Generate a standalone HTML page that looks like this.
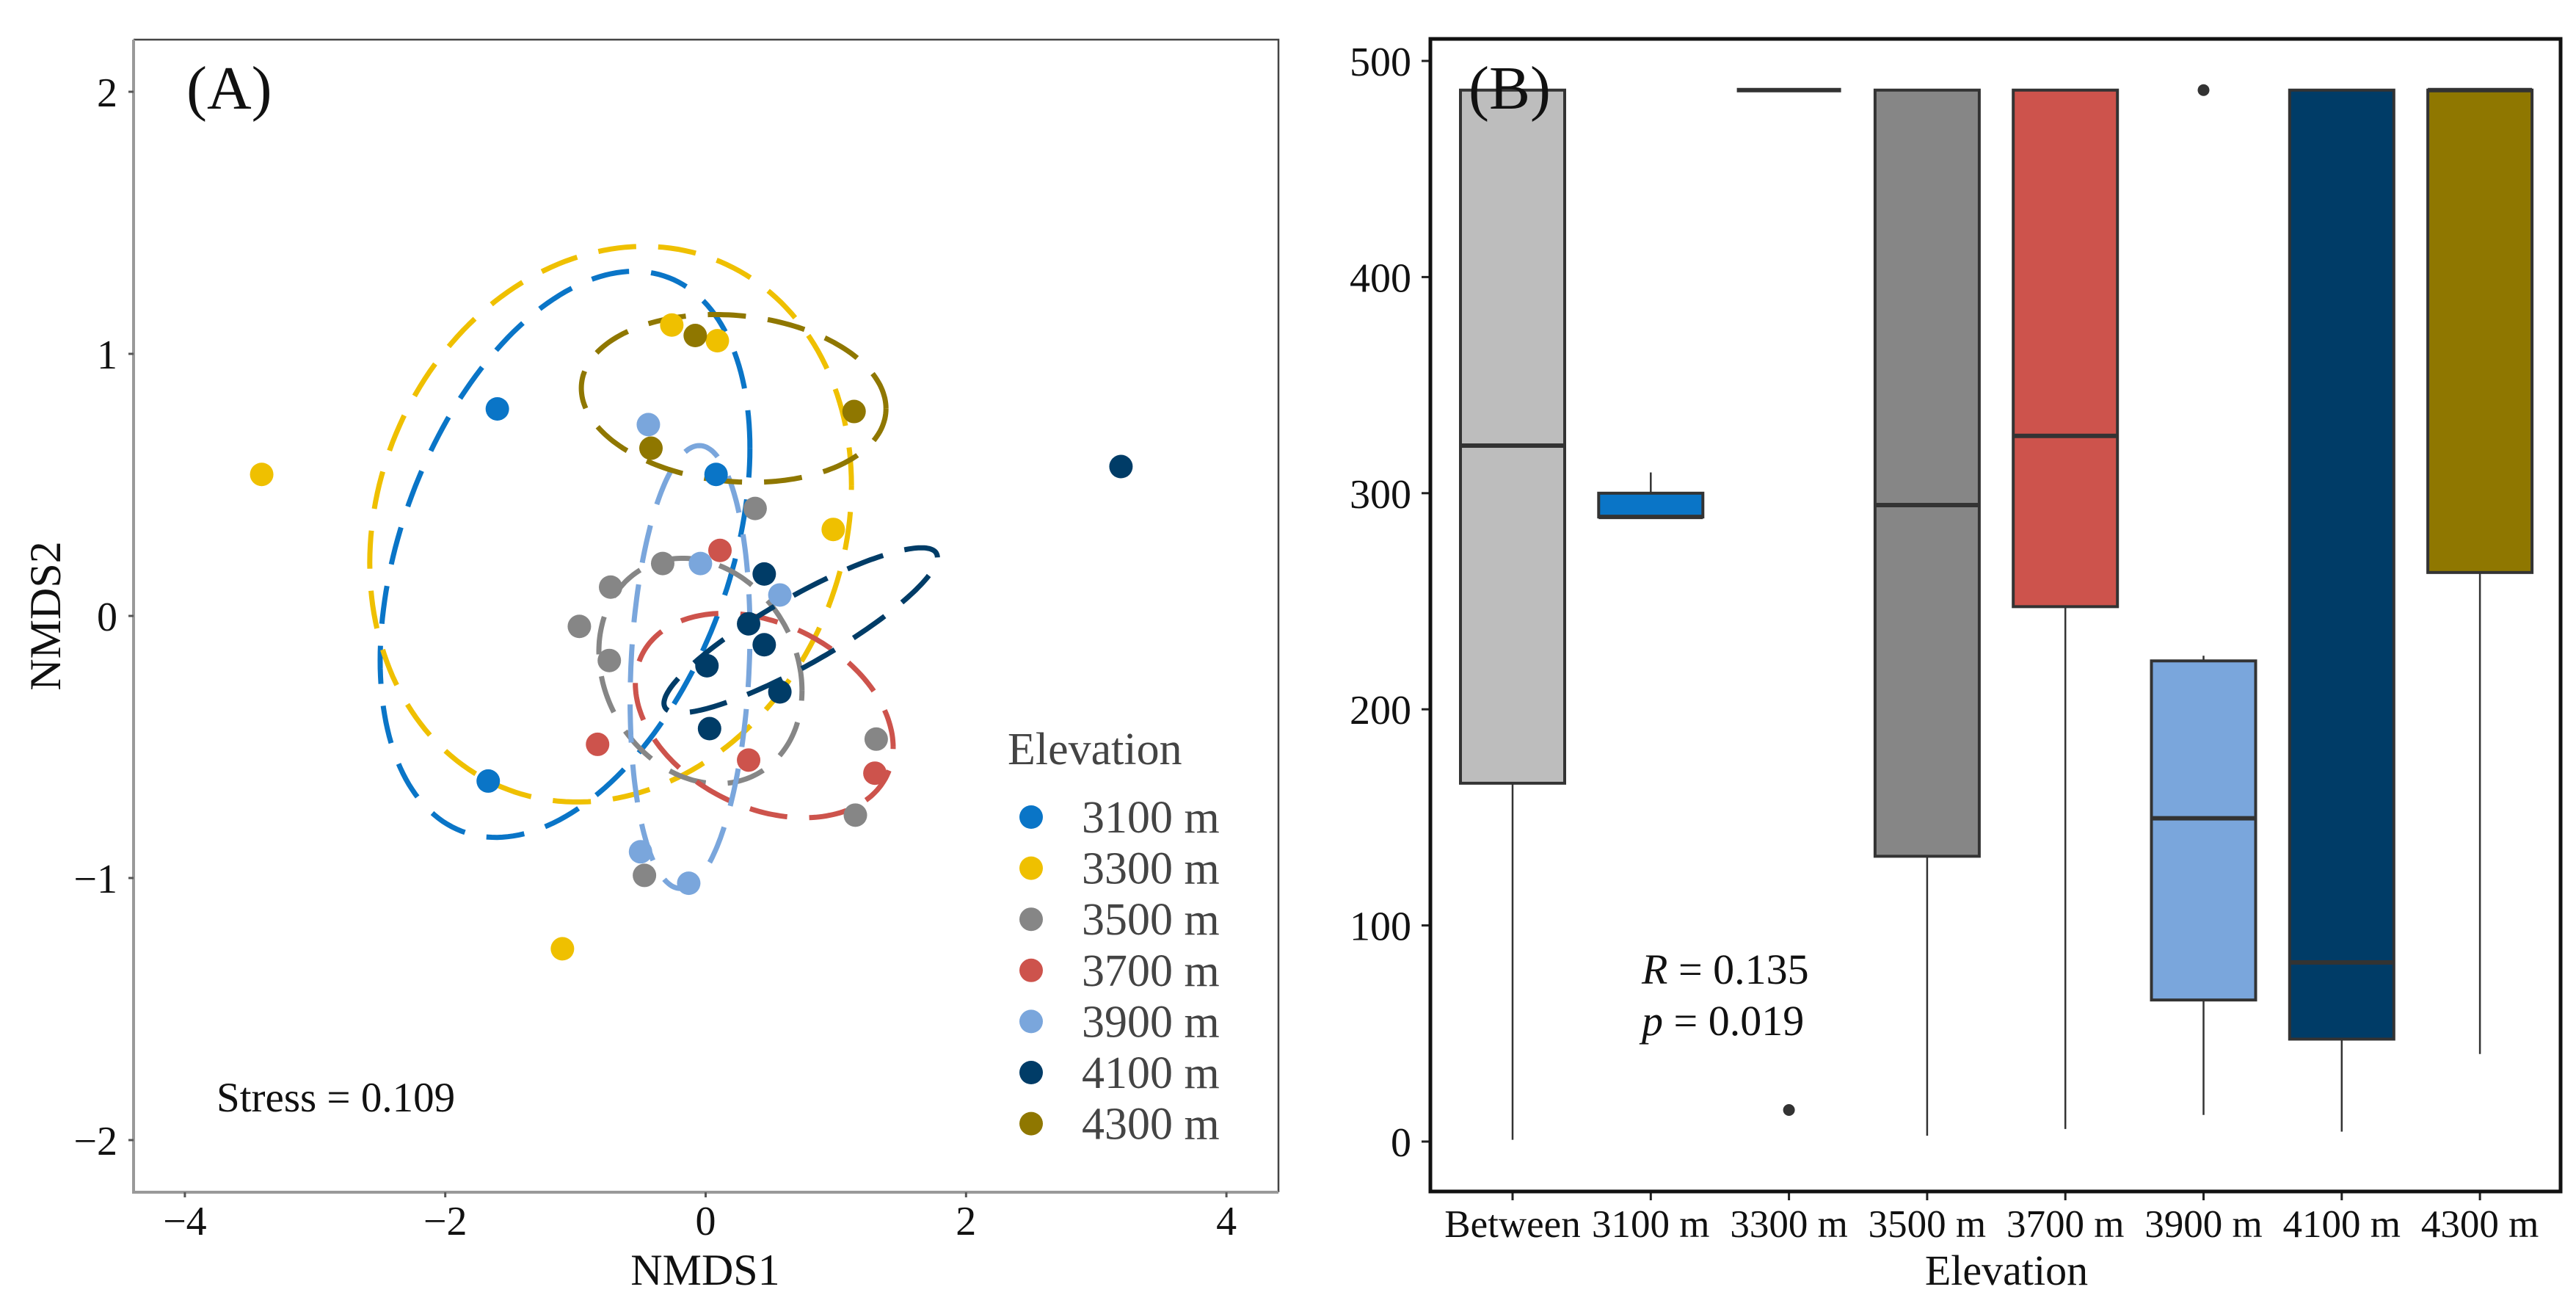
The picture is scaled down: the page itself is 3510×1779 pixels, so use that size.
<!DOCTYPE html>
<html><head><meta charset="utf-8"><style>
html,body{margin:0;padding:0;background:#fff}
svg{display:block;font-family:"Liberation Serif",serif}
</style></head><body>
<svg id="fig" width="3510" height="1779" viewBox="0 0 3510 1779" xmlns="http://www.w3.org/2000/svg">
<g id="panelA"></g>
<g id="panelB"></g>
</svg>
<script>
const NS="http://www.w3.org/2000/svg";
// ---- Panel A data ----
const groups=["3100 m","3300 m","3500 m","3700 m","3900 m","4100 m","4300 m"];
const colors=["#0A75C7","#EFC000","#868686","#CD534C","#7AA6DC","#003C67","#8F7700"];
const x3100=[-1.60,-1.67,0.08], y3100=[0.79,-0.63,0.54];
const x3300=[-3.41,-1.10,-0.26,0.09,0.98], y3300=[0.54,-1.27,1.11,1.05,0.33];
const x3500=[0.38,-0.33,-0.73,-0.97,-0.74,-0.47,1.31,1.15], y3500=[0.41,0.20,0.11,-0.04,-0.17,-0.99,-0.47,-0.76];
const x3700=[0.11,-0.83,0.33,1.30], y3700=[0.25,-0.49,-0.55,-0.60];
const x3900=[-0.44,-0.04,0.57,-0.50,-0.13], y3900=[0.73,0.20,0.08,-0.90,-1.02];
const x4100=[3.19,0.45,0.33,0.45,0.01,0.57,0.03], y4100=[0.57,0.16,-0.03,-0.11,-0.19,-0.29,-0.43];
const x4300=[-0.08,-0.42,1.14], y4300=[1.07,0.64,0.78];
const ptsX=[x3100,x3300,x3500,x3700,x3900,x4100,x4300];
const ptsY=[y3100,y3300,y3500,y3700,y3900,y4100,y4300];
const ellCx=[-1.08,-0.73,-0.04,0.45,-0.12,0.73,0.215];
const ellCy=[0.235,0.35,-0.21,-0.38,-0.195,-0.055,0.83];
const ellA=[1.42,1.85,0.78,0.99,0.46,1.05,1.17];
const ellB=[1.08,1.06,0.43,0.39,0.845,0.315,0.32];
const ellPhi=[68,82,100,108,81,28,97];
const xTicksA=[-4,-2,0,2,4], yTicksA=[-2,-1,0,1,2];
// ---- Panel B data ----
const cats=["Between","3100 m","3300 m","3500 m","3700 m","3900 m","4100 m","4300 m"];
const boxFill=["#BDBDBD","#0A75C7","#EFC000","#868686","#CD534C","#7AA6DC","#003C67","#8F7700"];
const wLow=[0.8,289,486.5,2.7,5.8,12.3,4.6,40.5];
const q1=[165.8,289,486.5,132,247.5,65.5,47.4,263.3];
const med=[322,289,486.5,294.5,326.5,149.6,82.9,486.5];
const q3=[486.5,300,486.5,486.5,486.5,222.4,486.5,486.5];
const wHigh=[486.5,309.6,486.5,486.5,486.5,224.8,486.5,486.5];
const outCat=[2,5], outVal=[14.6,486.5];
const yTicksB=[0,100,200,300,400,500];

function el(tag,attrs,parent,text){const e=document.createElementNS(NS,tag);for(const k in attrs)e.setAttribute(k,attrs[k]);if(text!==undefined)e.textContent=text;parent.appendChild(e);return e;}

// ===== Panel A =====
const A=document.getElementById('panelA');
const sxA=v=>961.5+v*177.4, syA=v=>839-v*357;
let r=el('path',{d:'M182,54 L1742,54 L1742,1624',fill:'none',stroke:'#444','stroke-width':2.5},A);

let r2=el('path',{d:'M182,54 L182,1624 L1742,1624',fill:'none',stroke:'#999','stroke-width':4},A);

xTicksA.forEach(v=>{
  let t=el('line',{x1:sxA(v),x2:sxA(v),y1:1624,y2:1631,stroke:'#555','stroke-width':3},A);
  
  let l=el('text',{x:sxA(v),y:1682,'font-size':56,'text-anchor':'middle',fill:'#111'},A,v<0?'\u2212'+(-v):String(v));
  
});
yTicksA.forEach(v=>{
  let t=el('line',{x1:175,x2:182,y1:syA(v),y2:syA(v),stroke:'#555','stroke-width':3},A);
  
  let l=el('text',{x:160,y:syA(v)+20,'font-size':56,'text-anchor':'end',fill:'#111'},A,v<0?'\u2212'+(-v):String(v));
  
});
let xt=el('text',{x:961,y:1750,'font-size':60,'text-anchor':'middle',fill:'#111'},A,'NMDS1');

let yt=el('text',{x:0,y:0,'font-size':60,'text-anchor':'middle',fill:'#111',transform:'translate(82,839) rotate(-90)'},A,'NMDS2');

let ta=el('text',{x:254,y:148,'font-size':84,fill:'#111'},A,'(A)');

let st=el('text',{x:295,y:1514,'font-size':57,fill:'#111'},A,'Stress = 0.109');

groups.forEach((g,i)=>{
  let d='';const ph=ellPhi[i]*Math.PI/180;
  for(let k=0;k<=200;k++){const t=k/200*2*Math.PI;
    const x=sxA(ellCx[i]+ellA[i]*Math.cos(t)), y=syA(ellCy[i]+ellB[i]*Math.cos(t-ph));
    d+=(k?'L':'M')+x.toFixed(1)+','+y.toFixed(1);}
  let p=el('path',{d:d,fill:'none',stroke:colors[i],'stroke-width':7,'stroke-dasharray':'52 30'},A);
  
});
groups.forEach((g,i)=>{
  ptsX[i].forEach((vx,j)=>{
    let c=el('circle',{cx:sxA(vx),cy:syA(ptsY[i][j]),r:16,fill:colors[i]},A);
    
  });
});
let lt=el('text',{x:1373,y:1041,'font-size':62,fill:'#444'},A,'Elevation');

groups.forEach((g,i)=>{
  const y=1113+i*69.6;
  let c=el('circle',{cx:1405,cy:y,r:16,fill:colors[i]},A);
  
  let t=el('text',{x:1474,y:y+21,'font-size':62,fill:'#444'},A,g);
  
});

// ===== Panel B =====
const B=document.getElementById('panelB');
const sxB=i=>2061+i*188.3, syB=v=>1555-v*2.944, bw=142;
yTicksB.forEach(v=>{
  let t=el('line',{x1:1937,x2:1949,y1:syB(v),y2:syB(v),stroke:'#222','stroke-width':3},B);
  
  let l=el('text',{x:1923,y:syB(v)+20,'font-size':56,'text-anchor':'end',fill:'#111'},B,String(v));
  
});
cats.forEach((c,i)=>{
  const x=sxB(i);
  let t=el('line',{x1:x,x2:x,y1:1623,y2:1635,stroke:'#222','stroke-width':3},B);
  
  let l=el('text',{x:x,y:1685,'font-size':53,'text-anchor':'middle',fill:'#111'},B,c);
  
  let w1=el('line',{x1:x,x2:x,y1:syB(wLow[i]),y2:syB(q1[i]),stroke:'#333','stroke-width':2.5},B);
  
  let w2=el('line',{x1:x,x2:x,y1:syB(q3[i]),y2:syB(wHigh[i]),stroke:'#333','stroke-width':2.5},B);
  
  let b=el('rect',{x:x-bw/2,y:syB(q3[i]),width:bw,height:Math.max(0,syB(q1[i])-syB(q3[i])),fill:boxFill[i],stroke:'#333','stroke-width':4},B);
  
  let m=el('line',{x1:x-bw/2,x2:x+bw/2,y1:syB(med[i]),y2:syB(med[i]),stroke:'#333','stroke-width':6},B);
  
});
outCat.forEach((ci,j)=>{
  let o=el('circle',{cx:sxB(ci),cy:syB(outVal[j]),r:8,fill:'#333'},B);
  
});
let fb=el('rect',{x:1949,y:53,width:1540,height:1570,fill:'none',stroke:'#111','stroke-width':5},B);

let tb=el('text',{x:2001,y:148,'font-size':84,fill:'#111'},B,'(B)');

let xe=el('text',{x:2734,y:1750,'font-size':58,'text-anchor':'middle',fill:'#111'},B,'Elevation');

let rt=el('text',{x:2237,y:1340,'font-size':58,fill:'#111'},B);

el('tspan',{'font-style':'italic'},rt,'R');el('tspan',{},rt,' = 0.135');
let pt=el('text',{x:2237,y:1410,'font-size':58,fill:'#111'},B);

el('tspan',{'font-style':'italic'},pt,'p');el('tspan',{},pt,' = 0.019');
</script>
</body></html>
